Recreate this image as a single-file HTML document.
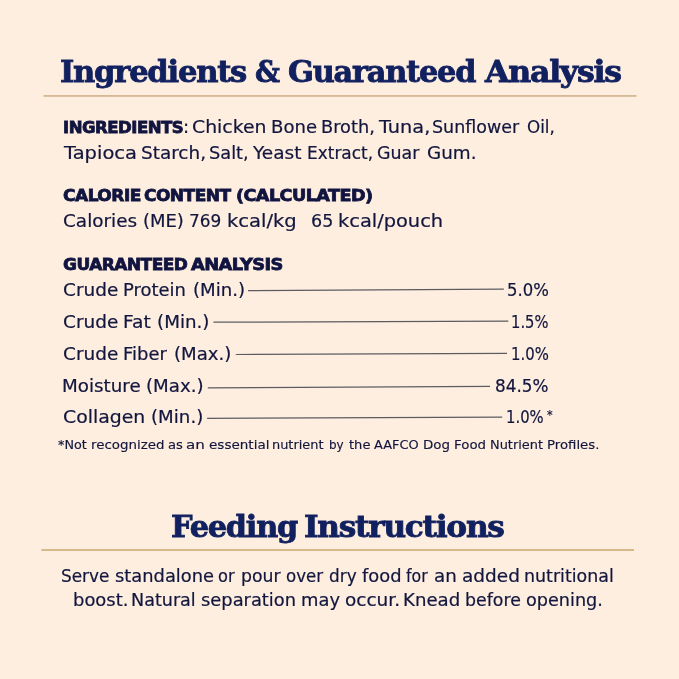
<!DOCTYPE html>
<html><head><meta charset="utf-8"><title>Ingredients &amp; Guaranteed Analysis</title>
<style>
html,body{margin:0;padding:0;}
body{width:679px;height:679px;background:#FEEEDF;position:relative;overflow:hidden;color:#12215F;font-family:"DejaVu Sans","Liberation Sans",sans-serif;}
h1,h2,h3,p,section,.row{margin:0;padding:0;font-size:0;line-height:0;font-weight:normal;}
.w{position:absolute;white-space:nowrap;line-height:40px;height:40px;transform-origin:0 0;}
.h{font-family:"DejaVu Serif","Liberation Serif",serif;font-size:30.0px;font-weight:bold;letter-spacing:-1.2px;-webkit-text-stroke:0.85px #11205F;color:#11205F;}
.b{font-family:"DejaVu Sans","Liberation Sans",sans-serif;font-size:17.1px;font-weight:normal;letter-spacing:0px;-webkit-text-stroke:0.2px #12163E;color:#12163E;}
.bb{font-family:"DejaVu Sans","Liberation Sans",sans-serif;font-size:16.5px;font-weight:bold;letter-spacing:-0.5px;-webkit-text-stroke:0.8px #10143F;color:#10143F;}
.f{font-family:"DejaVu Sans","Liberation Sans",sans-serif;font-size:12.3px;font-weight:normal;letter-spacing:0px;-webkit-text-stroke:0.15px #12163E;color:#12163E;}
</style></head><body>
<svg style="position:absolute;left:0;top:0" width="679" height="679" viewBox="0 0 679 679" fill="none" stroke="#5C5C60" stroke-width="1.2">
<rect x="43.5" y="95.3" width="593" height="1.3" fill="#C5A277" stroke="none"/>
<rect x="41.3" y="549.35" width="592.7" height="1.35" fill="#C5A163" stroke="none"/>
<line x1="248" y1="290.6" x2="503.9" y2="289.2"/>
<line x1="213.4" y1="322.2" x2="508.4" y2="321.1"/>
<line x1="235.8" y1="354.5" x2="507" y2="353.4"/>
<line x1="207.8" y1="387.8" x2="490" y2="386.4"/>
<line x1="207.1" y1="418.4" x2="502.2" y2="417.2"/>
</svg>
<h1><span class="w h" style="left:59.98px;top:52.20px;transform:scaleX(1.0192)">Ingredients</span> <span class="w h" style="left:255.21px;top:52.20px;transform:scaleX(0.9219)">&amp;</span> <span class="w h" style="left:287.74px;top:52.20px;transform:scaleX(1.0121)">Guaranteed</span> <span class="w h" style="left:485.19px;top:52.20px;transform:scaleX(1.0526)">Analysis</span></h1>
<section>
<p><span class="w bb" style="left:62.80px;top:107.50px;transform:scaleX(1.0013)">INGREDIENTS</span><span class="w b" style="left:182.63px;top:107.00px;transform:scaleX(1.0667)">:</span> <span class="w b" style="left:191.87px;top:107.00px;transform:scaleX(1.1023)">Chicken</span> <span class="w b" style="left:270.61px;top:107.00px;transform:scaleX(1.0570)">Bone</span> <span class="w b" style="left:321.14px;top:107.00px;transform:scaleX(1.0379)">Broth,</span> <span class="w b" style="left:378.88px;top:107.00px;transform:scaleX(1.1299)">Tuna,</span> <span class="w b" style="left:432.18px;top:107.00px;transform:scaleX(1.0213)">Sunflower</span> <span class="w b" style="left:526.76px;top:107.00px;transform:scaleX(0.9808)">Oil,</span>
<span class="w b" style="left:63.78px;top:132.75px;transform:scaleX(1.1397)">Tapioca</span> <span class="w b" style="left:141.22px;top:132.75px;transform:scaleX(1.0771)">Starch,</span> <span class="w b" style="left:209.26px;top:132.75px;transform:scaleX(1.0378)">Salt,</span> <span class="w b" style="left:252.97px;top:132.75px;transform:scaleX(1.0838)">Yeast</span> <span class="w b" style="left:306.81px;top:132.75px;transform:scaleX(0.9914)">Extract,</span> <span class="w b" style="left:377.24px;top:132.75px;transform:scaleX(1.0195)">Guar</span> <span class="w b" style="left:426.80px;top:132.75px;transform:scaleX(1.0720)">Gum.</span></p>
</section>
<section>
<h3><span class="w bb" style="left:62.68px;top:176.40px;transform:scaleX(1.0314)">CALORIE</span> <span class="w bb" style="left:144.29px;top:176.40px;transform:scaleX(1.0291)">CONTENT</span> <span class="w bb" style="left:235.93px;top:176.40px;transform:scaleX(1.0651)">(CALCULATED)</span></h3>
<p><span class="w b" style="left:62.69px;top:201.30px;transform:scaleX(1.0770)">Calories</span> <span class="w b" style="left:142.59px;top:201.30px;transform:scaleX(1.0510)">(ME)</span> <span class="w b" style="left:189.26px;top:201.30px;transform:scaleX(0.9884)">769</span> <span class="w b" style="left:227.38px;top:201.30px;transform:scaleX(1.1433)">kcal/kg</span> <span class="w b" style="left:310.77px;top:201.30px;transform:scaleX(1.0256)">65</span> <span class="w b" style="left:338.40px;top:201.30px;transform:scaleX(1.1343)">kcal/pouch</span></p>
</section>
<section>
<h3><span class="w bb" style="left:62.99px;top:245.10px;transform:scaleX(1.0282)">GUARANTEED</span> <span class="w bb" style="left:191.34px;top:245.10px;transform:scaleX(1.0792)">ANALYSIS</span></h3>
<div class="row"><span class="w b" style="left:62.69px;top:269.80px;transform:scaleX(1.0814)">Crude</span> <span class="w b" style="left:123.32px;top:269.80px;transform:scaleX(1.0509)">Protein</span> <span class="w b" style="left:192.67px;top:269.80px;transform:scaleX(1.0602)">(Min.)</span> <span class="w b" style="left:506.80px;top:269.80px;transform:scaleX(0.9639)">5.0%</span></div>
<div class="row"><span class="w b" style="left:62.69px;top:301.80px;transform:scaleX(1.0814)">Crude</span> <span class="w b" style="left:123.06px;top:301.80px;transform:scaleX(1.0905)">Fat</span> <span class="w b" style="left:157.26px;top:301.80px;transform:scaleX(1.0688)">(Min.)</span> <span class="w b" style="left:511.09px;top:301.80px;transform:scaleX(0.8634)">1.5%</span></div>
<div class="row"><span class="w b" style="left:62.69px;top:333.80px;transform:scaleX(1.0814)">Crude</span> <span class="w b" style="left:123.12px;top:333.80px;transform:scaleX(1.0509)">Fiber</span> <span class="w b" style="left:173.87px;top:333.80px;transform:scaleX(1.0602)">(Max.)</span> <span class="w b" style="left:510.78px;top:333.80px;transform:scaleX(0.8707)">1.0%</span></div>
<div class="row"><span class="w b" style="left:62.20px;top:365.80px;transform:scaleX(1.0695)">Moisture</span> <span class="w b" style="left:146.37px;top:365.80px;transform:scaleX(1.0641)">(Max.)</span> <span class="w b" style="left:495.32px;top:365.80px;transform:scaleX(0.9848)">84.5%</span></div>
<div class="row"><span class="w b" style="left:62.67px;top:397.30px;transform:scaleX(1.1034)">Collagen</span> <span class="w b" style="left:151.07px;top:397.30px;transform:scaleX(1.0645)">(Min.)</span> <span class="w b" style="left:506.18px;top:397.30px;transform:scaleX(0.8683)">1.0%</span><span class="w f" style="left:546.97px;top:395.40px;transform:scaleX(0.9217)">*</span></div>
<p><span class="w f" style="left:58.24px;top:425.40px;transform:scaleX(1.0385)">*Not</span> <span class="w f" style="left:90.81px;top:425.40px;transform:scaleX(1.0901)">recognized</span> <span class="w f" style="left:168.10px;top:425.40px;transform:scaleX(1.0667)">as</span> <span class="w f" style="left:186.38px;top:425.40px;transform:scaleX(1.2291)">an</span> <span class="w f" style="left:208.85px;top:425.40px;transform:scaleX(1.1009)">essential</span> <span class="w f" style="left:272.45px;top:425.40px;transform:scaleX(1.0500)">nutrient</span> <span class="w f" style="left:328.63px;top:425.40px;transform:scaleX(0.9745)">by</span> <span class="w f" style="left:348.53px;top:425.40px;transform:scaleX(1.0615)">the</span> <span class="w f" style="left:374.40px;top:425.40px;transform:scaleX(1.0524)">AAFCO</span> <span class="w f" style="left:423.31px;top:425.40px;transform:scaleX(1.0901)">Dog</span> <span class="w f" style="left:453.71px;top:425.40px;transform:scaleX(1.0873)">Food</span> <span class="w f" style="left:489.65px;top:425.40px;transform:scaleX(1.0497)">Nutrient</span> <span class="w f" style="left:546.62px;top:425.40px;transform:scaleX(1.0789)">Profiles.</span></p>
</section>
<section>
<h2><span class="w h" style="left:170.79px;top:507.00px;transform:scaleX(1.0112)">Feeding</span> <span class="w h" style="left:304.06px;top:507.00px;transform:scaleX(1.0397)">Instructions</span></h2>
<p><span class="w b" style="left:61.31px;top:555.80px;transform:scaleX(0.9884)">Serve</span> <span class="w b" style="left:114.52px;top:555.80px;transform:scaleX(1.0445)">standalone</span> <span class="w b" style="left:218.49px;top:555.80px;transform:scaleX(0.9493)">or</span> <span class="w b" style="left:240.58px;top:555.80px;transform:scaleX(1.0119)">pour</span> <span class="w b" style="left:286.07px;top:555.80px;transform:scaleX(0.9733)">over</span> <span class="w b" style="left:329.06px;top:555.80px;transform:scaleX(0.9869)">dry</span> <span class="w b" style="left:362.44px;top:555.80px;transform:scaleX(1.0455)">food</span> <span class="w b" style="left:406.37px;top:555.80px;transform:scaleX(0.9234)">for</span> <span class="w b" style="left:434.03px;top:555.80px;transform:scaleX(1.0684)">an</span> <span class="w b" style="left:461.82px;top:555.80px;transform:scaleX(1.0810)">added</span> <span class="w b" style="left:524.47px;top:555.80px;transform:scaleX(1.0182)">nutritional</span>
<span class="w b" style="left:72.83px;top:579.60px;transform:scaleX(1.0485)">boost.</span> <span class="w b" style="left:130.76px;top:579.60px;transform:scaleX(1.0267)">Natural</span> <span class="w b" style="left:200.72px;top:579.60px;transform:scaleX(1.0449)">separation</span> <span class="w b" style="left:300.53px;top:579.60px;transform:scaleX(1.0468)">may</span> <span class="w b" style="left:344.79px;top:579.60px;transform:scaleX(1.0804)">occur.</span> <span class="w b" style="left:403.11px;top:579.60px;transform:scaleX(1.0627)">Knead</span> <span class="w b" style="left:464.98px;top:579.60px;transform:scaleX(1.0161)">before</span> <span class="w b" style="left:526.43px;top:579.60px;transform:scaleX(1.0319)">opening.</span></p>
</section>
</body></html>
